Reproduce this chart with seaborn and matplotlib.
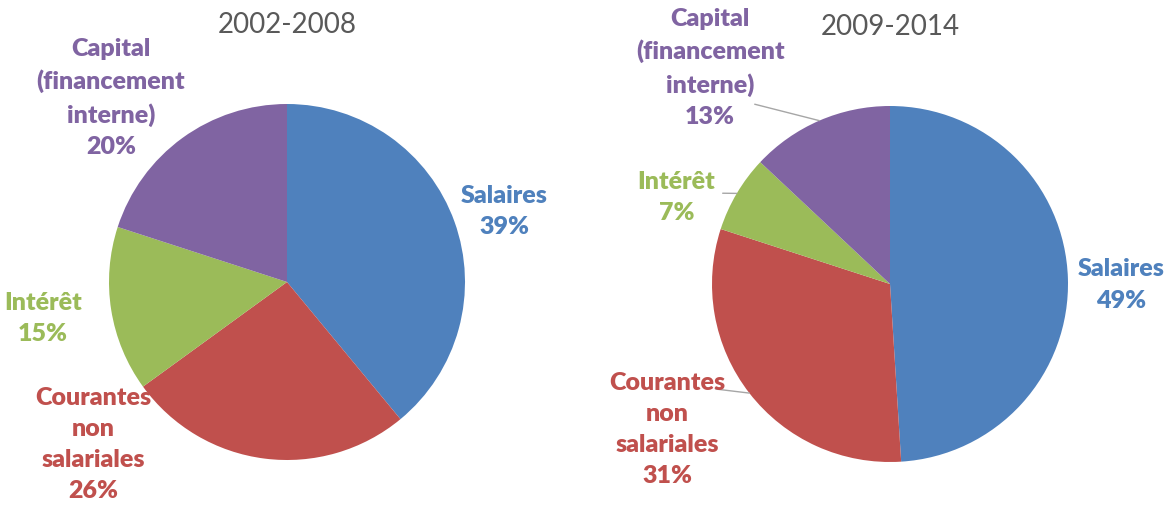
import numpy as np
import matplotlib
matplotlib.use("Agg")
import matplotlib.pyplot as plt
import seaborn as sns

# Data
periods = ["2002-2008", "2009-2014"]
categories = ["Salaires", "Courantes\nnon\nsalariales", "Intérêt", "Capital\n(financement\ninterne)"]
shares_2002 = [39, 26, 15, 20]
shares_2009 = [49, 31, 7, 13]
colors = ["#4F81BD", "#C0504D", "#9BBB59", "#8064A2"]

sns.set_theme(style="white")
plt.rcParams["font.family"] = ["Lato", "DejaVu Sans"]

W, H = 1171, 510
fig = plt.figure(figsize=(W / 100, H / 100), dpi=100)

R = 178
centers = [(287, 283), (890, 285)]

# label centre positions (in radius units) per pie
label_pos = [
    [(1.22, 0.40), (-1.09, -0.91), (-1.37, -0.20), (-0.99, 1.04)],
    [(1.30, 0.00), (-1.25, -0.81), (-1.20, 0.49), (-1.01, 1.22)],
]
# leader lines (start in radius units) for the right pie, None = no line
leaders = [
    [None, None, None, None],
    [None, (-0.98, -0.59), (-0.94, 0.51), (-0.76, 1.01)],
]

for k, (period, shares) in enumerate(zip(periods, [shares_2002, shares_2009])):
    cx, cy = centers[k]
    ax = fig.add_axes([(cx - R) / W, (H - cy - R) / H, 2 * R / W, 2 * R / H])
    wedges, _ = ax.pie(shares, colors=colors, startangle=90, counterclock=False,
                       radius=1, wedgeprops=dict(linewidth=0))
    ax.set_xlim(-1, 1)
    ax.set_ylim(-1, 1)
    ax.set_aspect("equal")
    ax.axis("off")
    ax.text(0, 1.45, period, ha="center", va="center", fontsize=20,
            color="#595959")

    for i, (name, val) in enumerate(zip(categories, shares)):
        w = wedges[i]
        mid = np.deg2rad((w.theta1 + w.theta2) / 2)
        tx, ty = label_pos[k][i]
        ax.text(tx, ty, f"{name}\n{val}%", ha="center", va="center",
                fontsize=18, fontweight="heavy", color=colors[i],
                linespacing=1.5)
        if leaders[k][i] is not None:
            sx, sy = leaders[k][i]
            ax.plot([sx, np.cos(mid)], [sy, np.sin(mid)], color="#A6A6A6",
                    linewidth=1, clip_on=False)

fig.savefig("out.png", dpi=100)
